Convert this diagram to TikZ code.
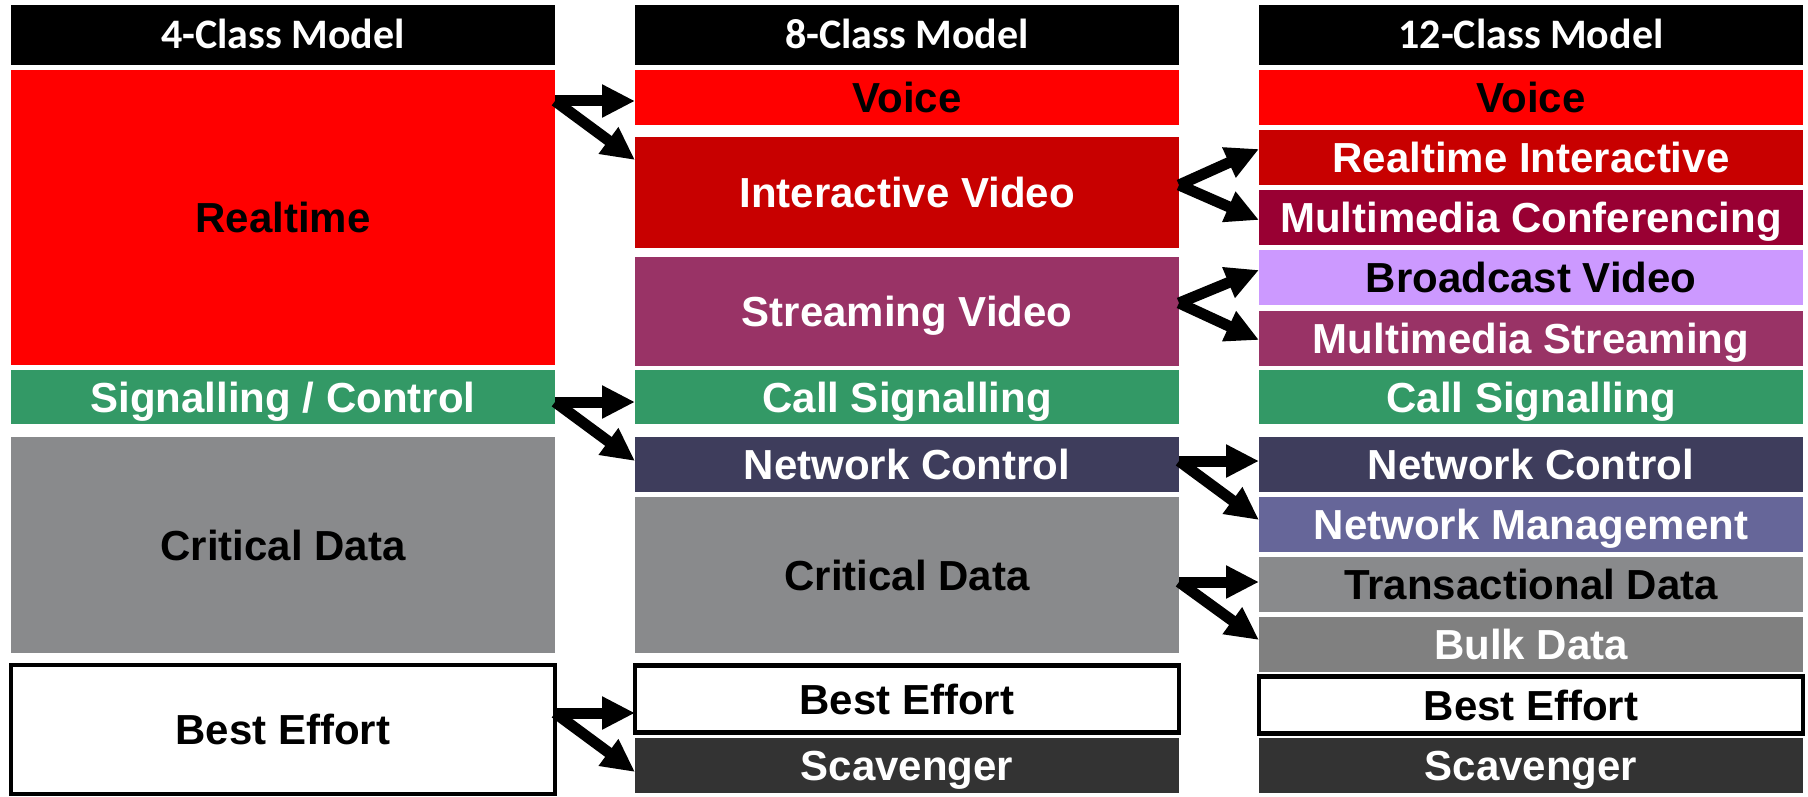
\documentclass[tikz,border=0pt]{standalone}
\usepackage{fontspec}
\setmainfont{Liberation Sans}
\newfontfamily\hdrfont{Carlito}
\usetikzlibrary{arrows.meta,calc}

\definecolor{rtred}{HTML}{FF0000}
\definecolor{ivred}{HTML}{C80000}
\definecolor{mmconf}{HTML}{990033}
\definecolor{stream}{HTML}{993366}
\definecolor{bcast}{HTML}{CC99FF}
\definecolor{siggreen}{HTML}{339966}
\definecolor{netctl}{HTML}{3E3D5C}
\definecolor{netmgmt}{HTML}{666699}
\definecolor{critgray}{HTML}{898A8C}
\definecolor{bulkgray}{HTML}{808080}
\definecolor{scav}{HTML}{333333}

% one class box: name, x1, x2, y1, y2 (pixel units, y downwards), style, label
\newcommand\classbox[7]{%
  \node[box,#6,minimum width={(#3-#2)*0.5pt},minimum height={(#5-#4)*0.5pt}]
    (#1) at ({(#2+#3)/2},{(#4+#5)/2}) {#7};}

\begin{document}
\begin{tikzpicture}[x=0.5pt,y=-0.5pt,
  box/.style={rectangle,inner sep=0pt,outer sep=0pt,
    font=\fontsize{21}{25}\selectfont\bfseries,
    text height=15pt,text depth=0pt,align=center},
  hdr/.style={fill=black,text=white,
    font=\hdrfont\fontsize{21}{25}\selectfont\bfseries,text height=13.5pt},
  dark/.style={text=white},
  light/.style={text=black},
  outlined/.style={fill=white,draw=black,line width=2.4pt,text=black},
  arr/.style={line width=5.5pt,-{Triangle[length=16.5pt,width=15.5pt]}}]

\useasboundingbox (0,0) rectangle (1808,797);

% column headers
\classbox{h4}{11}{555}{5}{65}{hdr}{4-Class Model}
\classbox{h8}{635}{1179}{5}{65}{hdr}{8-Class Model}
\classbox{h12}{1259}{1803}{5}{65}{hdr}{12-Class Model}

% 4-class model
\classbox{rt}{11}{555}{70}{365}{fill=rtred,light}{Realtime}
\classbox{sc}{11}{555}{370}{424}{fill=siggreen,dark}{Signalling / Control}
\classbox{cd4}{11}{555}{437}{653}{fill=critgray,light}{Critical Data}
\classbox{be4}{11}{555}{665}{794}{outlined}{Best Effort}

% 8-class model
\classbox{vo8}{635}{1179}{70}{125}{fill=rtred,light}{Voice}
\classbox{iv8}{635}{1179}{137}{248}{fill=ivred,dark}{Interactive Video}
\classbox{sv8}{635}{1179}{257}{366}{fill=stream,dark}{Streaming Video}
\classbox{cs8}{635}{1179}{370}{424}{fill=siggreen,dark}{Call Signalling}
\classbox{nc8}{635}{1179}{437}{492}{fill=netctl,dark}{Network Control}
\classbox{cd8}{635}{1179}{497}{653}{fill=critgray,light}{Critical Data}
\classbox{be8}{635}{1179}{665.5}{732.5}{outlined}{Best Effort}
\classbox{sg8}{635}{1179}{738}{793}{fill=scav,dark}{Scavenger}

% 12-class model
\classbox{vo12}{1259}{1803}{70}{125}{fill=rtred,light}{Voice}
\classbox{ri12}{1259}{1803}{130}{185}{fill=ivred,dark}{Realtime Interactive}
\classbox{mc12}{1259}{1803}{190}{245}{fill=mmconf,dark}{Multimedia Conferencing}
\classbox{bv12}{1259}{1803}{250}{305}{fill=bcast,light}{Broadcast Video}
\classbox{ms12}{1259}{1803}{311}{366}{fill=stream,dark}{Multimedia Streaming}
\classbox{cs12}{1259}{1803}{370}{424}{fill=siggreen,dark}{Call Signalling}
\classbox{nc12}{1259}{1803}{437}{492}{fill=netctl,dark}{Network Control}
\classbox{nm12}{1259}{1803}{497}{552}{fill=netmgmt,dark}{Network Management}
\classbox{td12}{1259}{1803}{557}{612}{fill=critgray,light}{Transactional Data}
\classbox{bd12}{1259}{1803}{617}{672}{fill=bulkgray,dark}{Bulk Data}
\classbox{be12}{1259}{1803}{676.5}{733.5}{outlined}{Best Effort}
\classbox{sg12}{1259}{1803}{738}{793}{fill=scav,dark}{Scavenger}

% split points on the right edge of each source class
\coordinate (rtS) at ($(rt.north east)+(0,31)$);
\coordinate (scS) at ($(sc.north east)+(0,32)$);
\coordinate (beS) at ($(be4.north east)+(0,48)$);
\coordinate (ivS) at ($(iv8.north east)+(0,48)$);
\coordinate (svS) at ($(sv8.north east)+(0,46)$);
\coordinate (ncS) at ($(nc8.north east)+(0,24)$);
\coordinate (cdS) at ($(cd8.north east)+(0,85)$);

% 4-class to 8-class
\draw[arr] (rtS) -- (rtS -| vo8.west);
\draw[arr] (rtS) -- ($(iv8.north west)+(0,23)$);
\draw[arr] (scS) -- (scS -| cs8.west);
\draw[arr] (scS) -- ($(nc8.north west)+(0,24)$);
\draw[arr] (beS) -- (beS -| be8.west);
\draw[arr] (beS) -- ($(sg8.north west)+(0,34)$);

% 8-class to 12-class
\draw[arr] (ivS) -- ($(ri12.north west)+(0,19)$);
\draw[arr] (ivS) -- ($(mc12.north west)+(0,30)$);
\draw[arr] (svS) -- ($(bv12.north west)+(0,20)$);
\draw[arr] (svS) -- ($(ms12.north west)+(0,29)$);
\draw[arr] (ncS) -- (ncS -| nc12.west);
\draw[arr] (ncS) -- ($(nm12.north west)+(0,23)$);
\draw[arr] (cdS) -- (cdS -| td12.west);
\draw[arr] (cdS) -- ($(bd12.north west)+(0,23)$);
\end{tikzpicture}
\end{document}
